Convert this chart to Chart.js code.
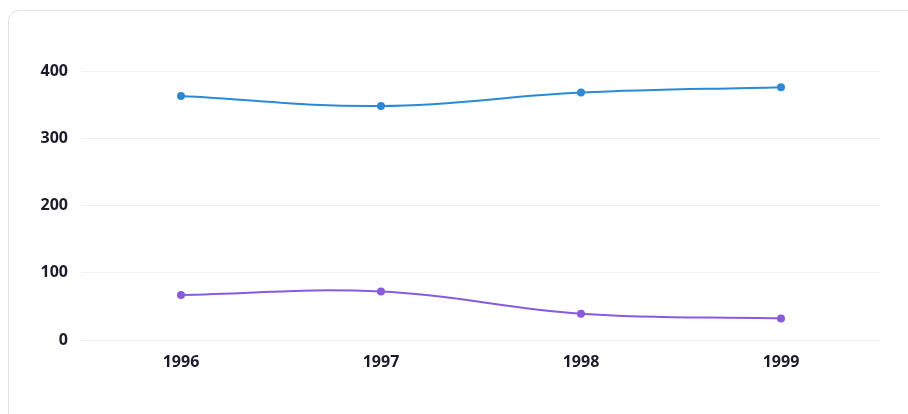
<!DOCTYPE html>
<html>
<head>
<meta charset="utf-8">
<script src="https://cdn.jsdelivr.net/npm/chart.js@4"></script>
<style>
    html, body { margin: 0; padding: 0; background: #fff; overflow: hidden; }
    body { width: 908px; height: 414px; position: relative; }
    .card {
        position: absolute; left: 8px; top: 10px;
        width: 1000px; height: 500px;
        border: 1px solid #e2e2e2; border-radius: 11px;
        box-sizing: border-box;
    }
    #chart-wrap { position: absolute; left: 0; top: 0; width: 908px; height: 414px; }
</style>
</head>
<body>
<div class="card"></div>
<div id="chart-wrap"><canvas id="line-chart"></canvas></div>
<script>
// Données
const years = ['1996', '1997', '1998', '1999'];
const seriesBlue = [363, 348, 368, 376];
const seriesPurple = [67, 72, 39, 32];
const yTicks = [0, 100, 200, 300, 400];

const tickFont = { family: '"Open Sans", Inter, sans-serif', size: 16, weight: 'bold' };

new Chart(document.getElementById('line-chart'), {
    type: 'line',
    data: {
        labels: years,
        datasets: [{
            data: seriesBlue,
            borderColor: '#2a8ad6',
            backgroundColor: '#2a8ad6',
            borderWidth: 2,
            pointRadius: 3,
            tension: 0.4
        }, {
            data: seriesPurple,
            borderColor: '#8a5ade',
            backgroundColor: '#8a5ade',
            borderWidth: 2,
            pointRadius: 3,
            tension: 0.4
        }]
    },
    options: {
        responsive: true,
        maintainAspectRatio: false,
        animation: false,
        layout: { padding: { top: 71, right: 27, bottom: 0, left: 0 } },
        plugins: { legend: { display: false }, tooltip: { enabled: false } },
        scales: {
            x: {
                offset: true,
                grid: { display: false },
                border: { display: false },
                ticks: { color: '#1c1c2b', font: tickFont, padding: 5 },
                afterFit: (scale) => { scale.height = 74; }
            },
            y: {
                min: 0,
                max: 400,
                afterBuildTicks: (scale) => { scale.ticks = yTicks.map(v => ({ value: v })); },
                grid: { color: '#f1f1f1', drawTicks: false },
                border: { display: false },
                ticks: { color: '#1c1c2b', font: tickFont, padding: 13 },
                afterFit: (scale) => { scale.width = 81; }
            }
        }
    }
});
</script>
</body>
</html>
